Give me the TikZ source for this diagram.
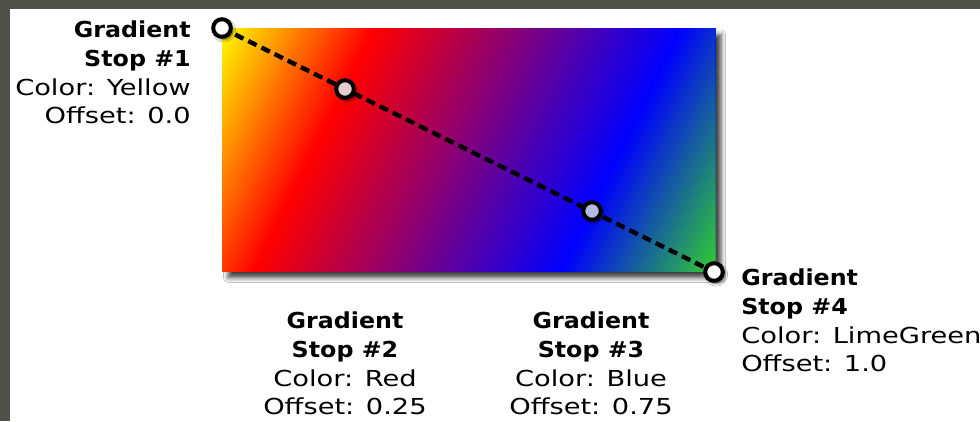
\documentclass[tikz,border=0pt]{standalone}
\usepackage{fontspec}
\setmainfont{DejaVu Sans}
\newfontfamily\stopfont[FakeStretch=1.24]{DejaVu Sans}
\newfontfamily\stophead[FakeStretch=1.08]{DejaVu Sans}
\usepackage{xcolor}
\usepackage{tikz}
\usetikzlibrary{shadows.blur}

\definecolor{framegray}{RGB}{80,81,72}
\definecolor{stoptwo}{RGB}{226,204,206}
\definecolor{stopthree}{RGB}{176,186,226}

\newcommand{\stoplabel}[3]{{\stophead\bfseries Gradient}\\{\stophead\bfseries Stop \##1}\\Color: #2\\Offset: #3}

\tikzset{
  stopmark/.style={circle,draw=black,line width=3pt,minimum size=13.2pt,inner sep=0pt,fill=#1,
    blur shadow={shadow xshift=1.5pt,shadow yshift=-1.8pt,shadow blur radius=2.2pt,shadow opacity=75}},
  stopmark/.default=white,
  stopline/.style={line width=3.3pt,dash pattern=on 7pt off 4pt,black},
  stoptext/.style={inner sep=0pt,font=\stopfont\fontsize{16.5pt}{21.4pt}\selectfont}
}

\begin{document}
\begin{tikzpicture}[x=0.75pt,y=-0.75pt]
\useasboundingbox (0,0) rectangle (980,421);
\fill[framegray] (0,0) rectangle (980,421);
\fill[white] (10,9) rectangle (980,421);
% shadow of the gradient box
\path[blur shadow={shadow xshift=4.5pt,shadow yshift=-5pt,shadow blur radius=3.5pt,shadow opacity=75}] (222,28) rectangle (715,271);
% linear gradient, stops yellow / red / blue / limegreen
\begin{scope}
\clip (222,28) rectangle (715,271);
\foreach \i in {0,...,199}{
  \pgfmathsetmacro\t{(\i+0.5)/200}
  \pgfmathsetmacro\ta{min(\t/0.25,1)}
  \pgfmathsetmacro\tb{max(min((\t-0.25)/0.5,1),0)}
  \pgfmathsetmacro\tc{max((\t-0.75)/0.25,0)}
  \pgfmathtruncatemacro\R{255*(1-\tb)+50*\tc}
  \pgfmathtruncatemacro\G{255*(1-\ta)+205*\tc}
  \pgfmathtruncatemacro\B{255*\tb-205*\tc}
  \definecolor{bandcol}{RGB}{\R,\G,\B}
  \pgfmathsetmacro\u{\i/200}
  \fill[bandcol] ({222+493*\u-265},{28+243*\u+538}) -- ({222+493*\u+265},{28+243*\u-538})
    -- (1030,-242) -- (500,834) -- cycle;
}
\end{scope}
\coordinate (p1) at (222,28);
\coordinate (p2) at (345,89);
\coordinate (p3) at (592,211);
\coordinate (p4) at (714,272);
\draw[stopline] (p1) -- (p4);
\node[stopmark] (s1) at (p1) {};
\node[stopmark=stoptwo] (s2) at (p2) {};
\node[stopmark=stopthree] (s3) at (p3) {};
\node[stopmark] (s4) at (p4) {};
% labels
\node[stoptext,align=right,anchor=north east] (l1) at (191,21) {\stoplabel{1}{Yellow}{0.0}};
\node[stoptext,align=center,anchor=north] (l2) at (345,312) {\stoplabel{2}{Red}{0.25}};
\node[stoptext,align=center,anchor=north] (l3) at (591,312) {\stoplabel{3}{Blue}{0.75}};
\node[stoptext,align=left,anchor=north west] (l4) at (741,269) {\stoplabel{4}{LimeGreen}{1.0}};
\end{tikzpicture}
\end{document}
